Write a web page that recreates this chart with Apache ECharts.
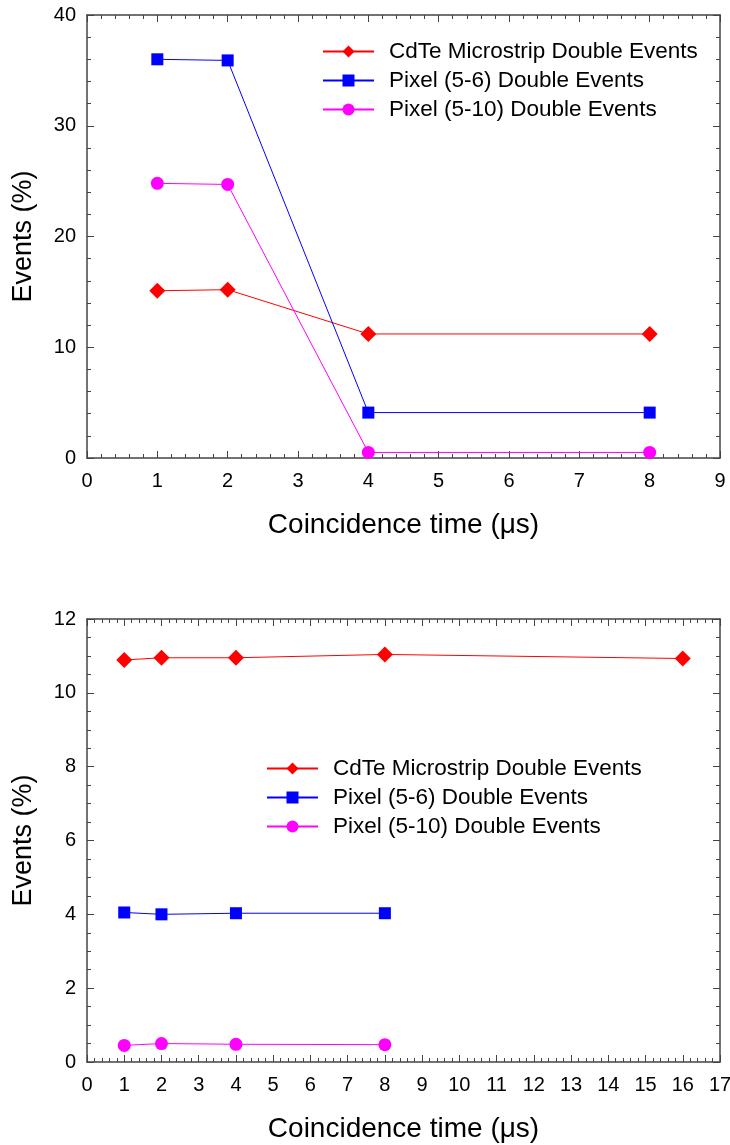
<!DOCTYPE html>
<html>
<head>
<meta charset="utf-8">
<script src="https://cdn.jsdelivr.net/npm/echarts@6/dist/echarts.min.js"></script>
<style>
  html, body { margin: 0; padding: 0; background: #fff; }
  #chart { width: 730px; height: 1145px; }
</style>
</head>
<body>
<div id="chart"></div>
<script>
// top panel
const topTimes = [1, 2, 4, 8];
const topCdTe = [15.1, 15.2, 11.2, 11.2];
const topPix56 = [36.0, 35.9, 4.1, 4.1];
const topPix510 = [24.8, 24.7, 0.5, 0.5];

// bottom panel
const botTimesCdTe = [1, 2, 4, 8, 16];
const botCdTe = [10.89, 10.95, 10.95, 11.04, 10.93];
const botTimesPix = [1, 2, 4, 8];
const botPix56 = [4.05, 4.0, 4.03, 4.03];
const botPix510 = [0.45, 0.5, 0.48, 0.47];

const names = [
  "CdTe Microstrip Double Events",
  "Pixel (5-6) Double Events",
  "Pixel (5-10) Double Events",
];

const FONT = "Liberation Sans, Arial, sans-serif";
const frameColor = "#444";

const pairs = (xs, ys) => xs.map((x, i) => [x, ys[i]]);

function xAxes(gridIndex, max) {
  const base = {
    type: "value",
    gridIndex,
    min: 0,
    max,
    interval: 1,
    axisLine: { onZero: false, lineStyle: { color: frameColor, width: 1.5 } },
    axisTick: { inside: true, length: 7, lineStyle: { color: frameColor } },
    minorTick: { show: true, splitNumber: 5, length: 4, lineStyle: { color: frameColor } },
    splitLine: { show: false },
  };
  return [
    {
      ...base,
      position: "bottom",
      axisLabel: { color: "#000", fontSize: 20, fontFamily: FONT, margin: 13 },
      name: "Coincidence time (μs)",
      nameLocation: "middle",
      nameGap: 53,
      nameTextStyle: { color: "#000", fontSize: 28, fontFamily: FONT },
    },
    { ...base, position: "top", axisLabel: { show: false } },
  ];
}

function yAxes(gridIndex, max, interval, minorSplit) {
  const base = {
    type: "value",
    gridIndex,
    min: 0,
    max,
    interval,
    axisLine: { show: true, onZero: false, lineStyle: { color: frameColor, width: 1.5 } },
    axisTick: { show: true, inside: true, length: 7, lineStyle: { color: frameColor } },
    minorTick: { show: true, splitNumber: minorSplit, length: 4, lineStyle: { color: frameColor } },
    splitLine: { show: false },
  };
  return [
    {
      ...base,
      position: "left",
      axisLabel: { color: "#000", fontSize: 20, fontFamily: FONT, margin: 11 },
      name: "Events (%)",
      nameLocation: "middle",
      nameRotate: 90,
      nameGap: 50,
      nameTextStyle: { color: "#000", fontSize: 27, fontFamily: FONT },
    },
    { ...base, position: "right", axisLabel: { show: false } },
  ];
}

function seriesFor(gi, cdte, p56, p510) {
  const common = { type: "line", xAxisIndex: gi * 2, yAxisIndex: gi * 2, lineStyle: { width: 1 } };
  return [
    { ...common, name: names[0], data: cdte, color: "#ff0000", symbol: "diamond", symbolSize: 16 },
    { ...common, name: names[1], data: p56, color: "#0000ff", symbol: "rect", symbolSize: 12 },
    { ...common, name: names[2], data: p510, color: "#ff00ff", symbol: "circle", symbolSize: 13 },
  ];
}

const legendBase = {
  orient: "vertical",
  data: names,
  itemWidth: 51,
  itemHeight: 15,
  itemGap: 6,
  selectedMode: false,
  textStyle: {
    color: "#000", fontSize: 22.5, lineHeight: 22, fontFamily: FONT,
    padding: [0, 0, 0, 10],
  },
};

const chart = echarts.init(document.getElementById("chart"));
chart.setOption({
  animation: false,
  grid: [
    { left: 87, top: 15, width: 633, height: 443, outerBoundsMode: "none" },
    { left: 87, top: 619, width: 633, height: 443, outerBoundsMode: "none" },
  ],
  xAxis: [...xAxes(0, 9), ...xAxes(1, 17)],
  yAxis: [...yAxes(0, 40, 10, 5), ...yAxes(1, 12, 2, 4)],
  legend: [
    { ...legendBase, left: 317, top: 35 },
    { ...legendBase, left: 261, top: 752 },
  ],
  series: [
    ...seriesFor(0, pairs(topTimes, topCdTe), pairs(topTimes, topPix56), pairs(topTimes, topPix510)),
    ...seriesFor(1, pairs(botTimesCdTe, botCdTe), pairs(botTimesPix, botPix56), pairs(botTimesPix, botPix510)),
  ],
});
</script>
</body>
</html>
